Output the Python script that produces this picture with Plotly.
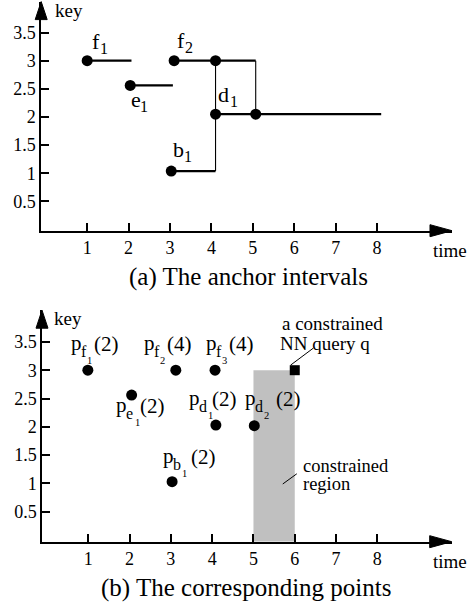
import plotly.graph_objects as go

W, H = 467, 609
SERIF = "Liberation Serif"

# ---------------- Panel (a): anchor intervals ----------------
interval_names = ["f1", "e1", "f2", "f3", "b1", "d1", "d2"]
interval_start = [1.0, 2.04, 3.1, 4.1, 3.03, 4.1, 5.07]
interval_end = [2.07, 3.07, 4.1, 5.07, 4.1, 5.07, 8.1]
interval_key = [3.0, 2.56, 3.0, 3.0, 1.04, 2.05, 2.05]

connector_time = [4.1, 5.07]
connector_low = [1.04, 2.05]
connector_high = [3.0, 3.0]

label_a_letter = ["f", "e", "f", "d", "b"]
label_a_sub = ["1", "1", "2", "1", "1"]
label_a_time = [1.094, 2.036, 3.147, 4.137, 3.051]
label_a_key = [3.208, 2.178, 3.226, 2.266, 1.29]
label_a_subshift = [8, 9, 8, 12, 11]

# ---------------- Panel (b): corresponding points ----------------
point_time = [0.99, 2.05, 3.12, 4.07, 3.03, 4.09, 5.02]
point_key = [3.0, 2.56, 3.0, 3.0, 1.03, 2.03, 2.02]
point_letter = ["f", "e", "f", "f", "b", "d", "d"]
point_sub = ["1", "1", "2", "3", "1", "1", "2"]
point_count = [2, 2, 4, 4, 2, 2, 2]
point_label_time = [0.557, 1.646, 2.324, 3.826, 2.785, 3.414, 4.77]
point_label_key = [3.357, 2.261, 3.357, 3.357, 1.36, 2.385, 2.385]
point_count_shift = [23, 24, 23, 23, 28, 23, 31]
point_subsub_shift = [16, 19, 16, 16, 19, 19, 19]

query_time = [6.0]
query_key = [3.0]
region_time = [5.0, 6.0]
region_key_top = 3.0

x_ticks = [1, 2, 3, 4, 5, 6, 7, 8]
y_ticks = [0.5, 1, 1.5, 2, 2.5, 3, 3.5]
y_tick_text = ["0.5", "1", "1.5", "2", "2.5", "3", "3.5"]

# axis geometry (pixels)
A = dict(x0=41.2, x1=452.0, ybot=230.7, ytop=1.6, xr=[-0.11, 9.81], yr=[-0.02, 4.05])
B = dict(x0=42.0, x1=451.7, ybot=541.7, ytop=310.2, xr=[-0.12, 9.8], yr=[-0.03, 4.06])


def PX(px):
    return px / W


def PY(py):
    return 1 - py / H


fig = go.Figure()

# Panel (a) intervals
for s, e, k in zip(interval_start, interval_end, interval_key):
    fig.add_trace(go.Scatter(x=[s, e], y=[k, k], mode="lines",
                             line=dict(color="black", width=2.2),
                             xaxis="x", yaxis="y", showlegend=False, hoverinfo="skip"))
for t, lo, hi in zip(connector_time, connector_low, connector_high):
    fig.add_trace(go.Scatter(x=[t, t], y=[lo, hi], mode="lines",
                             line=dict(color="black", width=1.1),
                             xaxis="x", yaxis="y", showlegend=False, hoverinfo="skip"))
fig.add_trace(go.Scatter(x=interval_start, y=interval_key, mode="markers",
                         marker=dict(color="black", size=11),
                         xaxis="x", yaxis="y", showlegend=False, cliponaxis=False))

# Panel (b)
fig.add_shape(type="rect", xref="x2", yref="y2", x0=region_time[0], x1=region_time[1],
              y0=B["yr"][0], y1=region_key_top, fillcolor="#c0c0c0",
              line=dict(width=0), layer="below")
fig.add_trace(go.Scatter(x=point_time, y=point_key, mode="markers",
                         marker=dict(color="black", size=11),
                         xaxis="x2", yaxis="y2", showlegend=False, cliponaxis=False))
fig.add_trace(go.Scatter(x=query_time, y=query_key, mode="markers",
                         marker=dict(color="black", size=10, symbol="square"),
                         xaxis="x2", yaxis="y2", showlegend=False, cliponaxis=False))

fig.add_shape(type="line", xref="x2", yref="y2", x0=5.9, y0=3.09, x1=6.45, y1=3.39,
              line=dict(color="black", width=1))
fig.add_shape(type="line", xref="x2", yref="y2", x0=5.71, y0=0.99, x1=6.05, y1=1.17,
              line=dict(color="black", width=1))

tickfont = dict(family=SERIF, size=18, color="black")


def axis_pair(g):
    xd = [PX(g["x0"]), PX(g["x1"])]
    yd = [PY(g["ybot"]), PY(g["ytop"])]
    xa = dict(domain=xd, range=g["xr"], showgrid=False, zeroline=False, showline=True,
              linecolor="black", linewidth=1.5, ticks="inside", ticklen=8, tickwidth=1.5,
              tickcolor="black", tickvals=x_ticks, ticktext=[str(v) for v in x_ticks],
              tickfont=tickfont, fixedrange=True)
    ya = dict(domain=yd, range=g["yr"], showgrid=False, zeroline=False, showline=True,
              linecolor="black", linewidth=1.5, ticks="inside", ticklen=8, tickwidth=1.5,
              tickcolor="black", tickvals=y_ticks, ticktext=y_tick_text,
              tickfont=tickfont, fixedrange=True)
    return xa, ya


xa1, ya1 = axis_pair(A)
xa2, ya2 = axis_pair(B)
xa1.update(anchor="y")
ya1.update(anchor="x")
xa2.update(anchor="y2")
ya2.update(anchor="x2")


def tri(pts):
    return "M " + " L ".join(f"{PX(x):.5f},{PY(y):.5f}" for x, y in pts) + " Z"


for g in (A, B):
    fig.add_shape(type="path", xref="paper", yref="paper",
                  path=tri([(g["x1"], g["ybot"]), (g["x1"] - 22, g["ybot"] - 6),
                            (g["x1"] - 22, g["ybot"] + 6)]),
                  fillcolor="black", line=dict(color="black", width=1))
    fig.add_shape(type="path", xref="paper", yref="paper",
                  path=tri([(g["x0"], g["ytop"]), (g["x0"] - 6, g["ytop"] + 18),
                            (g["x0"] + 6, g["ytop"] + 18)]),
                  fillcolor="black", line=dict(color="black", width=1))

ann = []


def piece(text, size, x, y, xref, yref, dx=0, dbase=0):
    # text whose left edge is dx px right of (x, y) and whose baseline is dbase px below it
    return dict(x=x, y=y, xref=xref, yref=yref, text=text, showarrow=False,
                xanchor="left", yanchor="middle", borderpad=0,
                xshift=dx, yshift=-(dbase - 0.3375 * size),
                font=dict(family=SERIF, size=size, color="black"))


# panel (a) labels
for L, s, x, y, sx in zip(label_a_letter, label_a_sub, label_a_time, label_a_key, label_a_subshift):
    ann.append(piece(L, 22, x, y, "x", "y"))
    ann.append(piece(s, 16, x, y, "x", "y", sx, 5))

# panel (b) labels
for L, s, c, x, y, cs, ss in zip(point_letter, point_sub, point_count, point_label_time,
                                 point_label_key, point_count_shift, point_subsub_shift):
    ann.append(piece("p", 21, x, y, "x2", "y2"))
    ann.append(piece(L, 16, x, y, "x2", "y2", 10, 7))
    ann.append(piece(s, 10.5, x, y, "x2", "y2", ss, 14))
    ann.append(piece(f"({c})", 21, x, y, "x2", "y2", cs, 1))

# callouts
ann.append(piece("a constrained", 19, 5.666, 3.71, "x2", "y2"))
ann.append(piece("NN query q", 19, 5.617, 3.366, "x2", "y2"))
ann.append(piece("constrained", 18.5, 6.174, 1.201, "x2", "y2"))
ann.append(piece("region", 18.5, 6.174, 0.883, "x2", "y2"))

# axis names
for kx, kb, tx, tb in [(54, 16.5, 432, 257), (53, 325, 432, 568)]:
    ann.append(piece("key", 19, PX(kx), PY(kb), "paper", "paper"))
    ann.append(piece("time", 19, PX(tx), PY(tb), "paper", "paper"))

# captions
ann.append(dict(x=PX(248), y=PY(277.5), xref="paper", yref="paper",
                text="(a) The anchor intervals", showarrow=False,
                xanchor="center", yanchor="middle",
                font=dict(family=SERIF, size=25, color="black")))
ann.append(dict(x=PX(246), y=PY(588), xref="paper", yref="paper",
                text="(b) The corresponding points", showarrow=False,
                xanchor="center", yanchor="middle",
                font=dict(family=SERIF, size=25, color="black")))

fig.update_layout(width=W, height=H, autosize=False,
                  margin=dict(l=0, r=0, t=0, b=0, pad=0),
                  paper_bgcolor="white", plot_bgcolor="white",
                  xaxis=xa1, yaxis=ya1, xaxis2=xa2, yaxis2=ya2,
                  annotations=ann, showlegend=False)

fig.write_html("out.html")
